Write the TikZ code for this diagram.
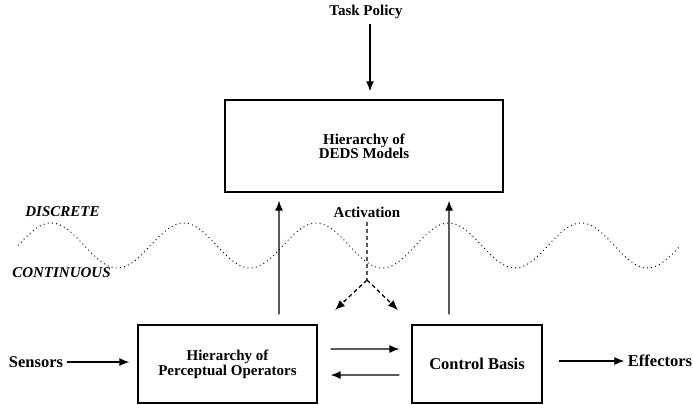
\documentclass[tikz,border=0pt]{standalone}
\usepackage{fontspec}
\setmainfont{Liberation Serif}
\usepackage{tikz}
\usetikzlibrary{positioning,arrows,arrows.meta,calc}
\newcommand{\lbl}{\fontsize{15}{18}\selectfont\bfseries}
\newcommand{\biglbl}{\fontsize{16.5}{19}\selectfont\bfseries}

\begin{document}
\begin{tikzpicture}[scale=0.3515, line width=1.3pt, >={Latex[length=10pt,width=8pt]}]
	\tikzstyle{every node}+=[inner sep=3pt]
	\tikzstyle{box}=[draw, rectangle, align=center, line width=1.3pt]
	\tikzstyle{arr}=[->, line width=1.3pt]
	\tikzstyle{darr}=[->, dash pattern=on 4pt off 3pt, line width=1.3pt]
	\useasboundingbox (0,0) rectangle (69.3,-40.5);
	% blocks
	\node (policy) at (36.6,-1.2) {\lbl Task Policy};
	\node [box, minimum width=278pt, minimum height=92pt] (deds) at (36.4,-14.6) {\lbl Hierarchy of\\[-1pt] \lbl DEDS Models};
	\node [box, minimum width=179pt, minimum height=78pt] (perc) at (22.75,-36.4) {\lbl Hierarchy of\\ \lbl Perceptual Operators};
	\node [box, minimum width=130pt, minimum height=78pt] (ctrl) at (47.7,-36.4) {\biglbl Control Basis};
	\node (sensors) at (3.6,-36.2) {\biglbl Sensors};
	\node (effectors) at (66.0,-36.1) {\biglbl Effectors};
	\node (activ) at (36.7,-21.2) {\lbl Activation};
	\node (discrete) at (6.25,-21.2) {\lbl\itshape DISCRETE};
	\node (contin) at (6.15,-27.3) {\lbl\itshape CONTINUOUS};
	% boundary between discrete and continuous
	\draw [line width=1pt, dash pattern=on 0.9pt off 3.3pt] plot [domain=1.8:68.05, samples=240, smooth] (\x, {-24.55+2.25*sin((\x-1.8)/13.25*360)});
	% connectors
	\draw [arr, shorten <=2pt, shorten >=8pt] (policy.south -| 37.0,0) -- (37.0,0 |- deds.north);
	\draw [arr, shorten <=10pt, shorten >=8pt] ($(perc.north)+(5.15,0)$) coordinate (pu) -- (pu |- deds.south);
	\draw [arr, shorten <=10pt, shorten >=8pt] ($(ctrl.north)+(-2.8,0)$) coordinate (cu) -- (cu |- deds.south);
	\draw [arr, shorten >=8pt] (sensors.east) -- (sensors.east -| perc.west);
	\draw [arr, shorten <=16pt] (ctrl.east |- effectors.west) -- (effectors.west);
	\draw [arr, shorten <=13pt, shorten >=12pt] ($(perc.east)+(0,1.5)$) coordinate (pe) -- (pe -| ctrl.west);
	\draw [arr, shorten <=12pt, shorten >=13pt] ($(ctrl.west)+(0,-1.1)$) coordinate (cw) -- (cw -| perc.east);
	% activation split
	\coordinate (split) at (36.7,-28.0);
	\coordinate (actl) at (33.5,-31.0);
	\coordinate (actr) at (39.8,-31.0);
	\draw [dash pattern=on 4pt off 3pt, shorten <=1pt] (activ) -- (split);
	\draw [darr] (split) -- (actl);
	\draw [darr] (split) -- (actr);
\end{tikzpicture}
\end{document}
